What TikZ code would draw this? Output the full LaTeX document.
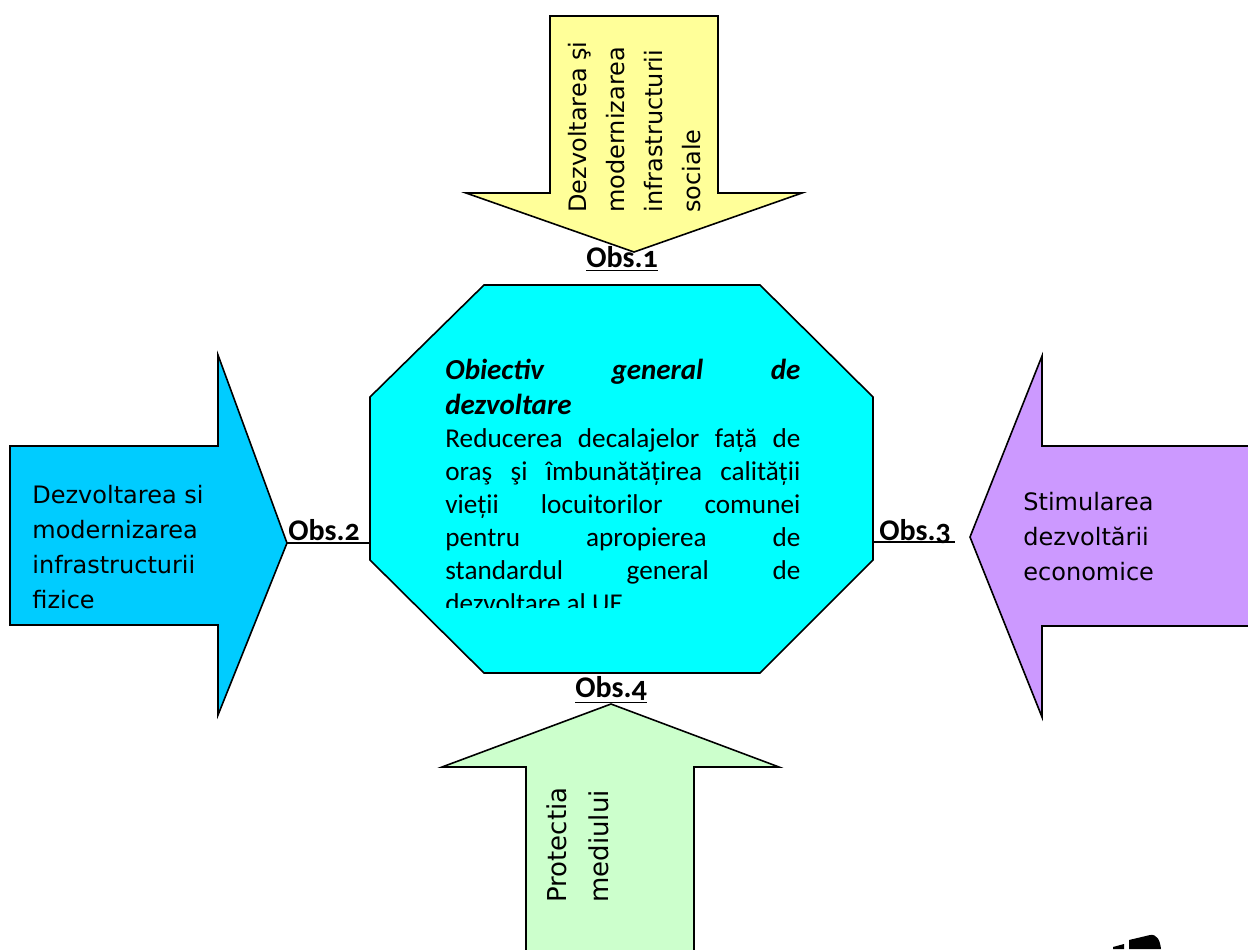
\documentclass[tikz,border=0pt]{standalone}
\usepackage{fontspec}
\setmainfont{Carlito}
\newfontfamily\arrowfont{DejaVu Sans}

\definecolor{socialyellow}{HTML}{FFFF99}
\definecolor{centercyan}{HTML}{00FFFF}
\definecolor{fizicblue}{HTML}{00CCFF}
\definecolor{econpurple}{HTML}{CC99FF}
\definecolor{mediugreen}{HTML}{CCFFCC}

\tikzset{
  bigarrow/.style={draw=black, line width=0.8pt, line join=miter},
  arrowtext/.style={inner sep=0pt, align=left, font=\arrowfont\fontsize{12}{17.5}\selectfont},
  obslabel/.style={inner sep=0pt, font=\bfseries\fontsize{15}{16}\selectfont\addfontfeatures{Numbers=OldStyle}},
}

\begin{document}
\begin{tikzpicture}[x=0.5pt, y=-0.5pt]
            \useasboundingbox (0,0) rectangle (1248,949);
            \clip (0,0) rectangle (1248,949);

            % the four arrows and the octagon
            \draw[bigarrow, fill=socialyellow] (550,16) -- (718,16) -- (718,193) -- (802,193)
                -- (634,252) -- (466,193) -- (550,193) -- cycle;
            \draw[bigarrow, fill=fizicblue] (10,446) -- (218,446) -- (218,355) -- (287,543)
                -- (218,715) -- (218,625) -- (10,625) -- cycle;
            \draw[bigarrow, fill=econpurple] (1260,446) -- (1042,446) -- (1042,356) -- (970,537)
                -- (1042,717) -- (1042,626) -- (1260,626);
            \draw[bigarrow, fill=mediugreen] (526,960) -- (526,767) -- (442,767) -- (611,704)
                -- (779,767) -- (694,767) -- (694,960) -- cycle;
            \draw[bigarrow, fill=centercyan] (484,285) -- (760,285) -- (873,397) -- (873,560)
                -- (760,673) -- (484,673) -- (370,560) -- (370,397) -- cycle;

            \fill (1113,949) -- (1113,947) -- (1124,944) -- (1124,949) -- cycle;
            \fill (1129,949) -- (1129,940) -- (1150,935) .. controls (1157,934) and (1160,940) .. (1161,949) -- cycle;

            % texts
            \node[arrowtext, rotate=90, anchor=north west, font=\arrowfont\fontsize{12}{19}\selectfont]
                (socialtext) at (568,213) {Dezvoltarea şi\\modernizarea\\infrastructurii\\sociale};
            \node[arrowtext, anchor=north west] (fizictext) at (32,485)
                {Dezvoltarea si\\modernizarea\\infrastructurii\\fizice};
            \node[arrowtext, anchor=north west] (econtext) at (1023,492)
                {Stimularea\\dezvoltării\\economice};
            \node[arrowtext, rotate=90, anchor=north west, font=\arrowfont\fontsize{13}{21}\selectfont]
                (mediutext) at (546,903) {Protectia\\mediului};

            \begin{scope}
                \clip (440,330) rectangle (810,607);
                \node[anchor=north west, inner sep=0pt, text width=177.5pt, align=justify] (obiectiv) at (445,359)
                    {\parindent=0pt
                    {\fontsize{14.5}{17.5}\selectfont\bfseries\itshape Obiectiv general de\linebreak dezvoltare\par}
                    \fontsize{13.6}{16.5}\selectfont
                    Reducerea decalajelor față de\linebreak oraş şi îmbunătățirea calității\linebreak
                    vieții locuitorilor comunei\linebreak pentru apropierea de\linebreak
                    standardul general de\linebreak dezvoltare al UE\par};
            \end{scope}

            \node[obslabel, anchor=base] (obs1) at (622,267) {\underline{Obs.1}};
            \node[obslabel, anchor=base west] (obs2) at (288,540) {Obs.2};
            \node[obslabel, anchor=base west] (obs3) at (879,540) {Obs.3};
            \node[obslabel, anchor=base] (obs4) at (611,697) {\underline{Obs.4}};

            \coordinate (tipL) at (287,543);
            \coordinate (octW) at (370,543);
            \coordinate (octE) at (873,542);
            \coordinate (obs3end) at (955,542);
            \path[draw, line width=0.6pt] (tipL) -- (octW);
            \path[draw, line width=0.6pt] (octE) -- (obs3end);
        \end{tikzpicture}
\end{document}
